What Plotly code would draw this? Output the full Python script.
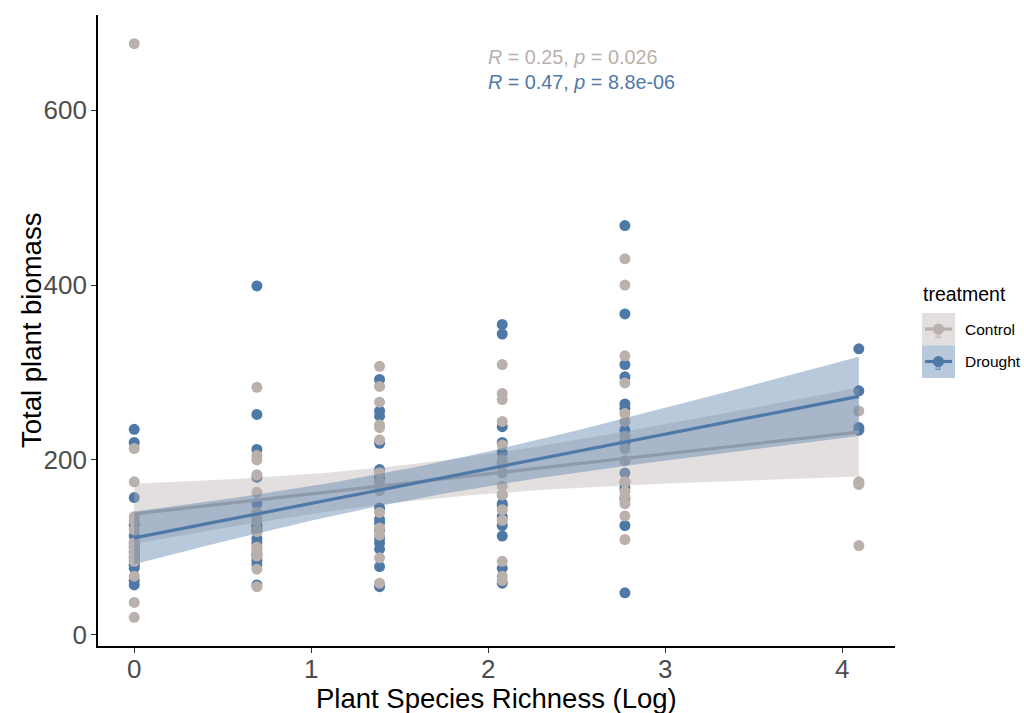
import numpy as np
import plotly.graph_objects as go

# Sown species richness levels (x axis is the natural log of these)
richness = [1, 2, 4, 8, 16, 60]

# Total plant biomass per plot, grouped by richness level
control_r1 = [676, 213, 175, 135, 130, 120, 103, 93, 84, 67, 37, 20, 90, 98, 85, 105]
control_r2 = [283, 205, 200, 183, 163, 140, 130, 120, 100, 95, 90, 75, 55, 100, 98, 118, 135]
control_r4 = [307, 284, 266, 240, 237, 223, 185, 175, 165, 114, 88, 59, 140, 122]
control_r8 = [309, 276, 269, 244, 217, 200, 185, 170, 143, 131, 84, 67, 62, 195, 160]
control_r16 = [430, 400, 319, 288, 253, 244, 227, 213, 199, 164, 136, 109, 175, 158, 150]
control_r60 = [256, 175, 172, 174, 102]

drought_r1 = [235, 220, 157, 126, 113, 100, 90, 80, 76, 62, 57, 95, 88, 105, 80]
drought_r2 = [399, 252, 212, 180, 150, 125, 110, 85, 80, 57, 105, 92, 118, 90, 122]
drought_r4 = [292, 256, 250, 219, 189, 180, 128, 98, 78, 55, 145, 132, 120, 105, 110]
drought_r8 = [355, 344, 238, 220, 208, 196, 150, 113, 76, 59, 160, 148, 135, 125]
drought_r16 = [468, 367, 309, 295, 264, 259, 234, 220, 175, 156, 125, 48, 185, 168]
drought_r60 = [327, 279, 237, 234]

treatments = ["Control", "Drought"]
cor_labels = {"Control": ("0.25", "0.026"), "Drought": ("0.47", "8.8e-06")}

x_ticks = [0, 1, 2, 3, 4]
y_ticks = [0, 200, 400, 600]

COLORS = {"Control": (186, 176, 172), "Drought": (78, 121, 167)}
FONT = "Liberation Sans, Arial, Helvetica, sans-serif"


def rgb(c, a=None):
    if a is None:
        return "rgb(%d,%d,%d)" % c
    return "rgba(%d,%d,%d,%.2f)" % (c + (a,))


def stack(groups):
    xs, ys = [], []
    for r, vals in zip(richness, groups):
        xs += [float(np.log(r))] * len(vals)
        ys += list(vals)
    return np.array(xs), np.array(ys, dtype=float)


def t_quantile(df, z=1.959963985):
    # Cornish-Fisher expansion of the Student t 97.5% quantile
    return (z + (z**3 + z) / (4 * df) + (5 * z**5 + 16 * z**3 + 3 * z) / (96 * df**2)
            + (3 * z**7 + 19 * z**5 + 17 * z**3 - 15 * z) / (384 * df**3))


def lm_fit(x, y, grid):
    n = len(x)
    b, a = np.polyfit(x, y, 1)
    resid = y - (a + b * x)
    s = np.sqrt(np.sum(resid**2) / (n - 2))
    sxx = np.sum((x - x.mean()) ** 2)
    fit = a + b * grid
    se = s * np.sqrt(1.0 / n + (grid - x.mean()) ** 2 / sxx)
    t = t_quantile(n - 2)
    return fit, fit - t * se, fit + t * se


data = {
    "Control": stack([control_r1, control_r2, control_r4, control_r8, control_r16, control_r60]),
    "Drought": stack([drought_r1, drought_r2, drought_r4, drought_r8, drought_r16, drought_r60]),
}

fig = go.Figure()

# points (drought first, control drawn over it)
for trt in ["Drought", "Control"]:
    x, y = data[trt]
    fig.add_trace(go.Scatter(
        x=x, y=y, mode="markers", showlegend=False,
        marker=dict(size=11, color=rgb(COLORS[trt]), line=dict(width=0)),
    ))

# linear fits with 95% confidence ribbons
for trt in treatments:
    x, y = data[trt]
    grid = np.linspace(x.min(), x.max(), 80)
    fit, lo, hi = lm_fit(x, y, grid)
    fig.add_trace(go.Scatter(
        x=np.concatenate([grid, grid[::-1]]), y=np.concatenate([hi, lo[::-1]]),
        mode="lines", fill="toself", fillcolor=rgb(COLORS[trt], 0.4),
        line=dict(width=0), hoverinfo="skip", showlegend=False,
    ))
    fig.add_trace(go.Scatter(
        x=grid, y=fit, mode="lines", showlegend=False,
        line=dict(color=rgb(COLORS[trt]), width=3.2),
    ))

# correlation labels
for i, trt in enumerate(treatments):
    r, p = cor_labels[trt]
    fig.add_annotation(
        x=1.99, y=661 - i * 28.5, xref="x", yref="y", xanchor="left", yanchor="middle",
        text="<i>R</i> = %s, <i>p</i> = %s" % (r, p), showarrow=False,
        font=dict(family=FONT, size=19.8, color=rgb(COLORS[trt])),
    )

# legend drawn by hand in paper space
PW, PH, L, T = 797.0, 631.0, 98.0, 15.0


def px(xp):
    return (xp - L) / PW


def py(yp):
    return (T + PH - yp) / PH


fig.add_annotation(x=px(921), y=py(294), xref="paper", yref="paper", xanchor="left",
                   yanchor="middle", text="treatment", showarrow=False,
                   font=dict(family=FONT, size=19.5, color="black"))
for i, trt in enumerate(treatments):
    top = 313 + i * 32.5
    c = COLORS[trt]
    fig.add_shape(type="rect", xref="paper", yref="paper", x0=px(922), x1=px(955),
                  y0=py(top + 32.5), y1=py(top), fillcolor=rgb(c, 0.4), line=dict(width=0), layer="above")
    cy = top + 16
    fig.add_shape(type="line", xref="paper", yref="paper", x0=px(925), x1=px(952),
                  y0=py(cy), y1=py(cy), line=dict(color=rgb(c), width=3.2), layer="above")
    fig.add_shape(type="circle", xref="paper", yref="paper", x0=px(933), x1=px(944),
                  y0=py(cy + 5.5), y1=py(cy - 5.5), fillcolor=rgb(c), line=dict(width=0), layer="above")
    fig.add_annotation(x=px(938.5), y=py(cy + 5), xref="paper", yref="paper", xanchor="center",
                       yanchor="middle", text="a", showarrow=False,
                       font=dict(family=FONT, size=10, color=rgb(c)))
    fig.add_annotation(x=px(963), y=py(cy), xref="paper", yref="paper", xanchor="left",
                       yanchor="middle", text=trt, showarrow=False,
                       font=dict(family=FONT, size=15.5, color="black"))

# axis titles
fig.add_annotation(x=px(496), y=py(698), xref="paper", yref="paper", xanchor="center",
                   yanchor="middle", text="Plant Species Richness (Log)", showarrow=False,
                   font=dict(family=FONT, size=27.5, color="black"))
fig.add_annotation(x=px(31), y=py(331), xref="paper", yref="paper", xanchor="center",
                   yanchor="middle", text="Total plant biomass", showarrow=False, textangle=-90,
                   font=dict(family=FONT, size=27.5, color="black"))

axis_common = dict(
    showgrid=False, zeroline=False, showline=True, linecolor="black", linewidth=1.7,
    ticks="outside", ticklen=5, tickwidth=1.3, tickcolor="#333333",
    tickfont=dict(family=FONT, size=26, color="#4D4D4D"),
)
fig.update_xaxes(range=[-0.2047, 4.2987], tickvals=x_ticks, ticklabelstandoff=-6, **axis_common)
fig.update_yaxes(range=[-12.8, 708.8], tickvals=y_ticks, ticklabelstandoff=-1, **axis_common)

fig.update_layout(
    width=1024, height=713, autosize=False,
    margin=dict(l=98, r=129, t=15, b=67),
    plot_bgcolor="white", paper_bgcolor="white",
    showlegend=False,
)

fig.write_html("out.html")
